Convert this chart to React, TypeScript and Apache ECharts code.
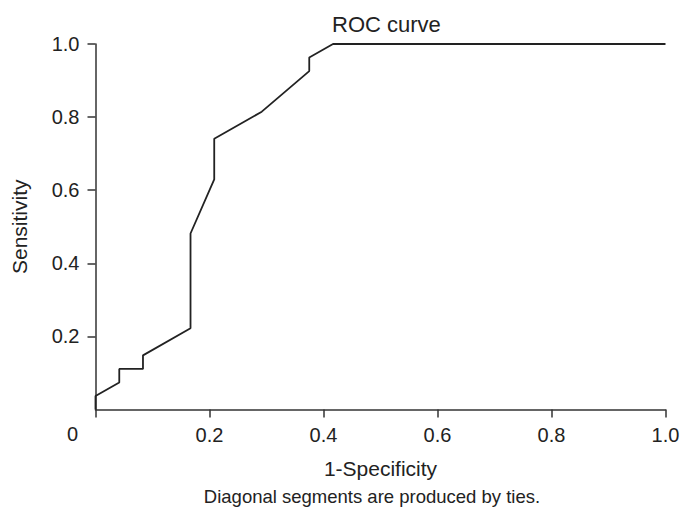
import React, { useEffect, useRef } from "react";
import * as echarts from "echarts";

// ROC curve points (1-Specificity, Sensitivity)
const fpr = [0, 0, 0.0417, 0.0417, 0.0833, 0.0833, 0.1667, 0.1667, 0.2083, 0.2083, 0.2917, 0.375, 0.375, 0.4167, 1.0];
const tpr = [0, 0.037, 0.0741, 0.1111, 0.1111, 0.1481, 0.2222, 0.4815, 0.6296, 0.7407, 0.8148, 0.9259, 0.963, 1.0, 1.0];
const titleText = "ROC curve";
const xName = "1-Specificity";
const yName = "Sensitivity";
const footnote = "Diagonal segments are produced by ties.";

const FONT = "'Liberation Sans', Arial, sans-serif";
const TXT = "#222";

export default function App() {
  const ref = useRef<HTMLDivElement>(null);
  useEffect(() => {
    if (!ref.current) return;
    const chart = echarts.init(ref.current, undefined, { renderer: "svg" });
    const data = fpr.map((x, i) => [x, tpr[i]]);
    chart.setOption({
      animation: false,
      backgroundColor: "#fff",
      textStyle: { fontFamily: FONT },
      title: {
        text: titleText,
        left: 327,
        top: 8,
        textStyle: { fontFamily: FONT, fontSize: 22, fontWeight: "normal", color: TXT },
      },
      grid: { left: 95.5, right: 27.5, top: 44, bottom: 109.5, containLabel: false },
      xAxis: {
        type: "value",
        min: 0,
        max: 1,
        interval: 0.2,
        name: xName,
        nameLocation: "middle",
        nameGap: 48,
        nameTextStyle: { fontFamily: FONT, fontSize: 21, color: TXT },
        axisLine: { show: true, lineStyle: { color: "#333", width: 1.5 } },
        axisTick: { show: true, length: 8, lineStyle: { color: "#333", width: 1.5 } },
        axisLabel: {
          fontFamily: FONT,
          fontSize: 20,
          color: TXT,
          margin: 15,
          formatter: (v: number) => (v === 0 ? "" : v.toFixed(1)),
        },
        splitLine: { show: false },
      },
      yAxis: {
        type: "value",
        min: 0,
        max: 1,
        interval: 0.2,
        name: yName,
        nameLocation: "middle",
        nameGap: 66,
        nameRotate: 90,
        nameTextStyle: { fontFamily: FONT, fontSize: 21, color: TXT },
        axisLine: { show: true, lineStyle: { color: "#333", width: 1.5 } },
        axisTick: { show: true, length: 8, lineStyle: { color: "#333", width: 1.5 } },
        axisLabel: {
          fontFamily: FONT,
          fontSize: 20,
          color: TXT,
          margin: 16,
          showMinLabel: false,
          formatter: (v: number) => (v === 0 ? "" : v.toFixed(1)),
        },
        splitLine: { show: false },
      },
      graphic: [
        {
          type: "text",
          left: 67,
          top: 424,
          style: { text: "0", fontFamily: FONT, fontSize: 20, fill: TXT },
        },
        {
          type: "text",
          x: 372,
          y: 496,
          style: {
            text: footnote,
            fontFamily: FONT,
            fontSize: 18.5,
            fill: TXT,
            align: "center",
            verticalAlign: "middle",
          },
        },
      ],
      series: [
        {
          type: "line",
          data,
          symbol: "none",
          lineStyle: { color: "#222", width: 1.8 },
          clip: false,
        },
      ],
    });
    return () => chart.dispose();
  }, []);
  return <div ref={ref} style={{ width: 693, height: 519, position: "absolute", left: 0, top: 0 }} />;
}
